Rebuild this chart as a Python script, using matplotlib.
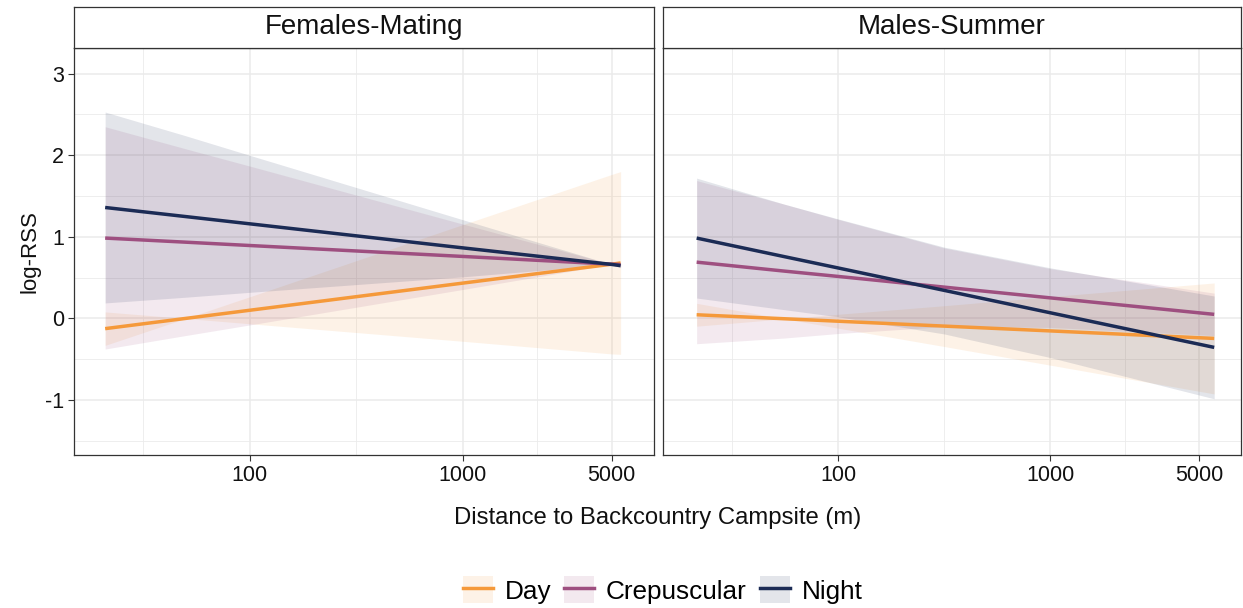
import matplotlib
matplotlib.use('Agg')
import matplotlib.pyplot as plt
from matplotlib.patches import Patch
from matplotlib.lines import Line2D
from matplotlib.ticker import NullFormatter

plt.rcParams['font.family'] = ['Liberation Sans', 'DejaVu Sans']

# ---------------- data ----------------
series = ['Day', 'Crepuscular', 'Night']
colors = {'Day': '#F5993A', 'Crepuscular': '#9E4F80', 'Night': '#1B2B55'}
facets = ['Females-Mating', 'Males-Summer']

# Females-Mating
fem_x = [21, 50, 100, 1000, 5000, 5500]
fem_day = [-0.125, 0.0, 0.10, 0.433, 0.665, 0.68]
fem_day_lo = [-0.33, 0.0, -0.065, -0.28, -0.435, -0.44]
fem_day_hi = [0.08, 0.0, 0.265, 1.15, 1.765, 1.80]
fem_crep = [0.985, 0.935, 0.894, 0.76, 0.665, 0.66]
fem_crep_lo = [-0.375, -0.21, -0.08, 0.355, 0.665, 0.64]
fem_crep_hi = [2.35, 2.08, 1.868, 1.157, 0.665, 0.68]
fem_night = [1.36, 1.249, 1.16, 0.865, 0.662, 0.647]
fem_night_lo = [0.19, 0.26, 0.32, 0.51, 0.662, 0.62]
fem_night_hi = [2.53, 2.24, 2.0, 1.21, 0.662, 0.68]

# Males-Summer
mal_x = [21.6, 56, 100, 316, 1000, 5900]
mal_day = [0.045, -0.004, -0.034, -0.094, -0.153, -0.245]
mal_day_lo = [-0.095, -0.004, -0.119, -0.344, -0.573, -0.925]
mal_day_hi = [0.185, -0.004, 0.051, 0.156, 0.267, 0.435]
mal_crep = [0.69, 0.58, 0.515, 0.384, 0.252, 0.05]
mal_crep_lo = [-0.31, -0.24, -0.185, -0.10, -0.11, -0.21]
mal_crep_hi = [1.69, 1.40, 1.215, 0.864, 0.61, 0.31]
mal_night = [0.985, 0.757, 0.619, 0.344, 0.069, -0.355]
mal_night_lo = [0.25, 0.107, 0.02, -0.19, -0.48, -0.985]
mal_night_hi = [1.72, 1.40, 1.22, 0.874, 0.62, 0.275]

x_ticks = [100, 1000, 5000]
x_ticklabels = ['100', '1000', '5000']
x_minor = [31.6, 316, 2236]
y_ticks = [-1, 0, 1, 2, 3]
y_minor = [-1.5, -0.5, 0.5, 1.5, 2.5]

panel_data = {
    'Females-Mating': (fem_x, {
        'Day': (fem_day, fem_day_lo, fem_day_hi),
        'Crepuscular': (fem_crep, fem_crep_lo, fem_crep_hi),
        'Night': (fem_night, fem_night_lo, fem_night_hi)}),
    'Males-Summer': (mal_x, {
        'Day': (mal_day, mal_day_lo, mal_day_hi),
        'Crepuscular': (mal_crep, mal_crep_lo, mal_crep_hi),
        'Night': (mal_night, mal_night_lo, mal_night_hi)}),
}

# ---------------- figure ----------------
W, H = 1243, 608
fig = plt.figure(figsize=(W / 100, H / 100), dpi=100)

def px_axes(x0, y0, x1, y1):
    return fig.add_axes([x0 / W, 1 - y1 / H, (x1 - x0) / W, (y1 - y0) / H])

panel_boxes = [(74, 48, 654, 455), (663, 48, 1241, 455)]
strip_top = 7
border_col = '#333333'
grid_col = '#EBEBEB'
ribbon_alpha = 0.12

for i, (facet, box) in enumerate(zip(facets, panel_boxes)):
    x0, y0, x1, y1 = box
    ax = px_axes(x0, y0, x1, y1)
    xs, d = panel_data[facet]
    for s in series:
        mid, lo, hi = d[s]
        ax.fill_between(xs, lo, hi, color=colors[s], alpha=ribbon_alpha,
                        linewidth=0, zorder=2)
    for s in series:
        mid, lo, hi = d[s]
        ax.plot(xs, mid, color=colors[s], lw=2.5, zorder=3,
                solid_capstyle='butt')
    ax.set_xscale('log')
    ax.set_xlim(15.0, 7890)
    ax.set_ylim(-1.674, 3.315)
    ax.set_xticks(x_ticks)
    ax.set_xticklabels(x_ticklabels)
    ax.set_xticks(x_minor, minor=True)
    ax.xaxis.set_minor_formatter(NullFormatter())
    ax.set_yticks(y_ticks)
    ax.set_yticks(y_minor, minor=True)
    ax.grid(True, which='major', color=grid_col, lw=1.1, zorder=0)
    ax.grid(True, which='minor', color=grid_col, lw=0.6, zorder=0)
    ax.set_axisbelow(True)
    ax.tick_params(which='minor', length=0)
    ax.tick_params(which='major', length=4, width=0.8, color=border_col,
                   labelsize=15.5, labelcolor='#111111', pad=3)
    if i == 0:
        ax.set_yticklabels([str(t) for t in y_ticks])
        ax.set_ylabel('log-RSS', fontsize=16, color='#111111', labelpad=3)
    else:
        ax.tick_params(axis='y', which='both', left=False, labelleft=False)
    for sp in ax.spines.values():
        sp.set_color(border_col)
        sp.set_linewidth(0.9)

    sax = px_axes(x0, strip_top, x1, y0)
    sax.set_xticks([])
    sax.set_yticks([])
    sax.set_facecolor('white')
    for sp in sax.spines.values():
        sp.set_color(border_col)
        sp.set_linewidth(0.9)
    sax.text(0.5, 0.5, facet, ha='center', va='center', fontsize=20,
             color='#111111', transform=sax.transAxes)

fig.text((74 + 1241) / 2 / W, 1 - 518 / H, 'Distance to Backcountry Campsite (m)',
         ha='center', va='center', fontsize=17.2, color='#111111')

handles = [(Patch(facecolor=colors[s], alpha=ribbon_alpha, edgecolor='none'),
            Line2D([], [], color=colors[s], lw=2.5)) for s in series]
fig.legend(handles, series, loc='center', ncol=3,
           bbox_to_anchor=((74 + 1241) / 2 / W + 5 / W, 1 - 590 / H),
           frameon=False, fontsize=18.8, handlelength=1.15, handleheight=1.2,
           handletextpad=0.45, columnspacing=0.5, borderpad=0)

fig.savefig('out.png', dpi=100)
